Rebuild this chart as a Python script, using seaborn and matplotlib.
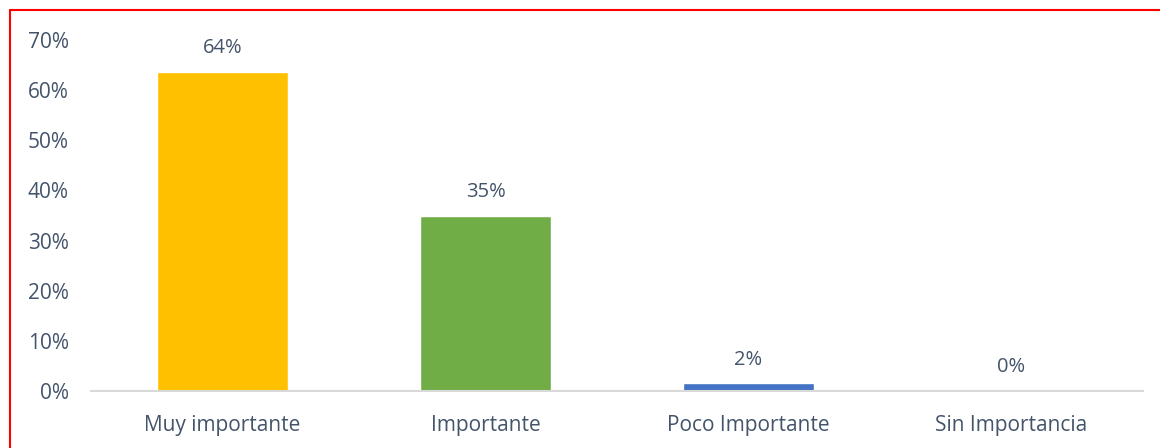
import matplotlib
matplotlib.use("Agg")
import pandas as pd
import seaborn as sns
from matplotlib import pyplot as plt
from matplotlib.lines import Line2D
from matplotlib.ticker import PercentFormatter

categories = ["Muy importante", "Importante", "Poco Importante", "Sin Importancia"]
values = [0.637, 0.349, 0.015, 0.0]
labels = ["64%", "35%", "2%", "0%"]
colors = ["#FFC000", "#70AD47", "#4472C4", "#A5A5A5"]

text_color = "#44546A"

sns.set_theme(style="white")
plt.rcParams["font.family"] = ["Open Sans", "DejaVu Sans"]

df = pd.DataFrame({"cat": categories, "val": values})

fig = plt.figure(figsize=(11.6, 4.48), dpi=100)
ax = fig.add_axes([91 / 1160, 1 - 391 / 448, (1143 - 91) / 1160, (391 - 40) / 448])

sns.barplot(data=df, x="cat", y="val", hue="cat", palette=colors, legend=False,
            width=0.5, saturation=1, ax=ax)

ax.set_ylim(0, 0.7)
ax.set_xlim(-0.5, 3.5)
ax.yaxis.set_major_formatter(PercentFormatter(1.0, decimals=0))
ax.set_yticks([i / 10 for i in range(8)])
ax.set_xlabel("")
ax.set_ylabel("")
ax.tick_params(axis="both", colors=text_color, labelsize=15, length=0)
ax.tick_params(axis="y", pad=16)
ax.tick_params(axis="x", pad=17)

for s in ["top", "right", "left"]:
    ax.spines[s].set_visible(False)
ax.spines["bottom"].set_color("#D9D9D9")
ax.spines["bottom"].set_linewidth(1.5)

for i, (v, lab) in enumerate(zip(values, labels)):
    ax.annotate(lab, (i, v), xytext=(0, 17), textcoords="offset points",
                ha="center", va="center", color=text_color, fontsize=14.5)

# red frame on left and top
fig.add_artist(Line2D([10 / 1160, 10 / 1160], [0, 1 - 10 / 448], color="red", lw=1.5))
fig.add_artist(Line2D([10 / 1160, 1], [1 - 10 / 448, 1 - 10 / 448], color="red", lw=1.5))

fig.savefig("out.png", dpi=100, facecolor="white")
